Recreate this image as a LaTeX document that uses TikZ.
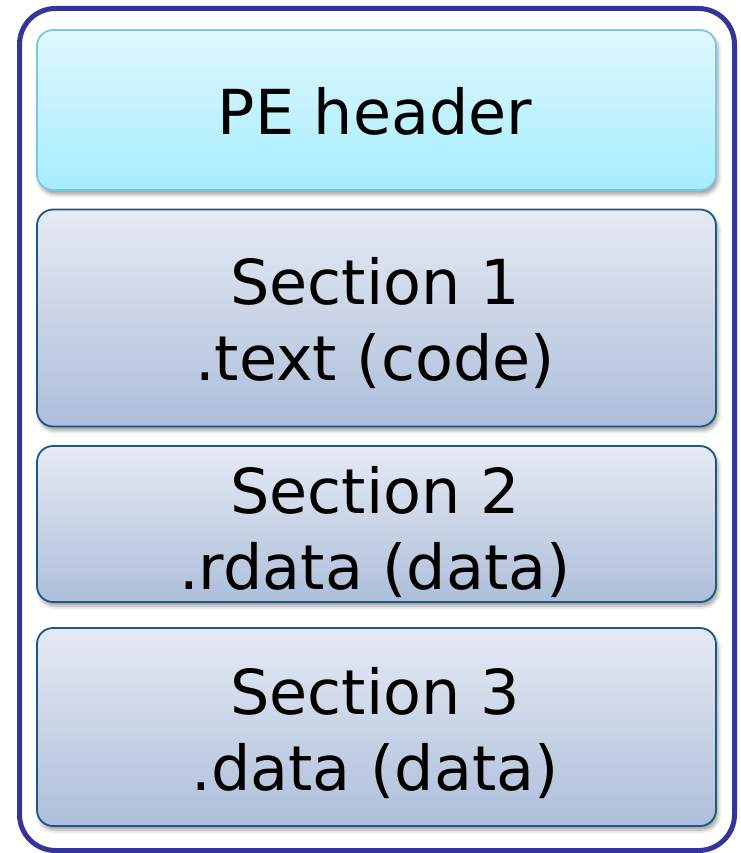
\documentclass[tikz,border=0pt]{standalone}
\usepackage{fontspec}
\setmainfont{DejaVu Sans}
\usetikzlibrary{shadows.blur}
\definecolor{frameblue}{RGB}{52,52,154}
\definecolor{hdrline}{RGB}{124,198,230}
\definecolor{hdrtop}{RGB}{224,248,254}
\definecolor{hdrbot}{RGB}{166,237,254}
\definecolor{secline}{RGB}{27,88,132}
\definecolor{sectop}{RGB}{230,234,244}
\definecolor{secbot}{RGB}{174,190,218}
\begin{document}
\begin{tikzpicture}[x=1pt,y=-1pt,
  block/.style={rounded corners=16pt, line width=1.8pt, inner sep=0pt,
    minimum width=679pt,
    blur shadow={shadow xshift=2pt, shadow yshift=-4pt, shadow blur radius=4pt, shadow opacity=40}},
  hdrblock/.style={block, draw=hdrline, top color=hdrtop, bottom color=hdrbot},
  secblock/.style={block, draw=secline, top color=sectop, bottom color=secbot},
  label/.style={anchor=base, align=center, inner sep=0pt,
    font=\fontsize{62pt}{76pt}\selectfont}]
  \useasboundingbox (0,0) rectangle (740,853);
  % outer frame
  \draw[frameblue, line width=5pt, rounded corners=36pt] (19.5,8.5) rectangle (734.5,850.5);
  % header and section blocks
  \node[hdrblock, minimum height=160pt] (hdr) at (376.5,110) {};
  \node[secblock, minimum height=217pt] (s1) at (376.5,318) {};
  \node[secblock, minimum height=156pt] (s2) at (376.5,524) {};
  \node[secblock, minimum height=198pt] (s3) at (376.5,727) {};
  % block texts (base anchor sits on the last line)
  \node[label] (thdr) at (375,135) {PE header};
  \node[label] (ts1) at (375,380) {Section 1\\.text (code)};
  \node[label] (ts2) at (375,589) {Section 2\\.rdata (data)};
  \node[label] (ts3) at (375,790) {Section 3\\.data (data)};
\end{tikzpicture}
\end{document}
